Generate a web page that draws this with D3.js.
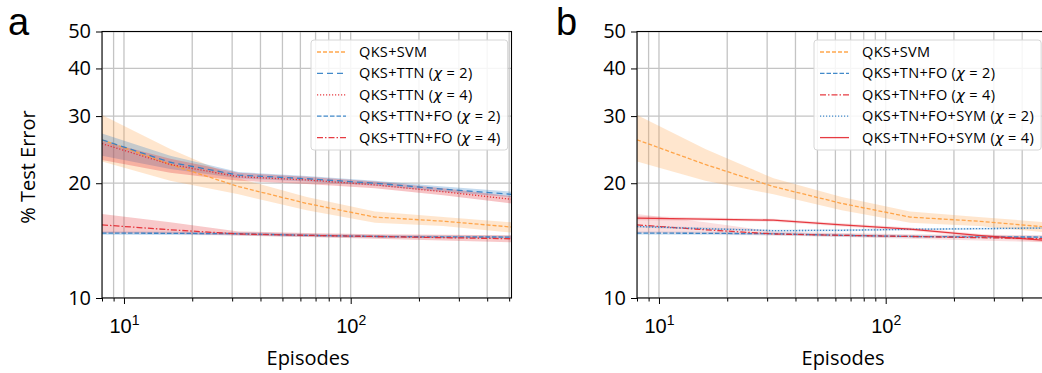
<!DOCTYPE html>
<html>
<head>
<meta charset="utf-8">
<script src="https://cdn.jsdelivr.net/npm/d3@7"></script>
<style>
  body { margin: 0; background: #fff; }
  svg { display: block; font-family: "Open Sans", "Noto Sans", sans-serif; }
</style>
</head>
<body>
<div id="chart"></div>
<script>
// episodes on the x axis (log2 steps)
const episodes = [8, 16, 32, 64, 128, 256, 512];

// % test error, mean and shaded band (lo / hi)
const svmMean = [26.0, 22.4, 19.6, 17.7, 16.3, 15.9, 15.35];
const svmLo   = [22.8, 20.3, 18.7, 17.0, 15.75, 15.45, 14.85];
const svmHi   = [30.2, 24.6, 20.6, 18.4, 16.85, 16.3, 15.8];

const ttn2Mean = [26.0, 22.7, 21.0, 20.55, 20.0, 19.3, 18.7];
const ttn2Lo   = [23.6, 21.8, 20.6, 20.2, 19.7, 19.0, 18.4];
const ttn2Hi   = [27.0, 23.6, 21.4, 20.9, 20.3, 19.6, 19.0];

const ttn4Mean = [25.4, 22.4, 20.8, 20.4, 19.8, 19.0, 18.15];
const ttn4Lo   = [23.0, 21.3, 20.3, 19.9, 19.4, 18.6, 17.7];
const ttn4Hi   = [25.8, 23.2, 21.3, 20.8, 20.2, 19.4, 18.5];

const fo2Mean = [14.8, 14.78, 14.74, 14.6, 14.5, 14.46, 14.45];
const fo2Lo   = [14.65, 14.64, 14.6, 14.47, 14.38, 14.34, 14.33];
const fo2Hi   = [14.95, 14.92, 14.88, 14.73, 14.62, 14.58, 14.57];

const fo4Mean = [15.55, 15.1, 14.72, 14.6, 14.5, 14.4, 14.3];
const fo4Lo   = [14.8, 14.75, 14.58, 14.45, 14.3, 14.15, 14.0];
const fo4Hi   = [16.6, 15.8, 14.95, 14.8, 14.7, 14.65, 14.6];

const sym2Mean = [15.4, 15.2, 15.02, 15.05, 15.14, 15.2, 15.26];
const sym2Lo   = [15.3, 15.1, 14.93, 14.96, 15.05, 15.11, 15.17];
const sym2Hi   = [15.5, 15.3, 15.11, 15.14, 15.23, 15.29, 15.35];

const sym4Mean = [16.2, 16.1, 16.0, 15.55, 15.15, 14.6, 14.15];
const sym4Lo   = [16.0, 15.95, 15.85, 15.4, 15.0, 14.45, 14.0];
const sym4Hi   = [16.4, 16.25, 16.15, 15.7, 15.3, 14.75, 14.3];

// ticks
const xMajorTicks = [10, 100];
const xMinorTicks = [8, 9, 20, 30, 40, 50, 60, 70, 80, 90, 200, 300, 400, 500];
const yTicks = [10, 20, 30, 40, 50];

const ORANGE = "#ff9d3b", BLUE = "#2d7dc4", RED = "#e3262d";

function series(name, chi, mean, lo, hi, color, dash, bandOpacity){
  return {name: name, chi: chi, mean: mean, lo: lo, hi: hi, color: color, dash: dash, bandOpacity: bandOpacity};
}

const panelA = [
  series("QKS+SVM", null, svmMean, svmLo, svmHi, ORANGE, "4,2", 0.25),
  series("QKS+TTN", 2, ttn2Mean, ttn2Lo, ttn2Hi, BLUE, "6,4", 0.28),
  series("QKS+TTN", 4, ttn4Mean, ttn4Lo, ttn4Hi, RED, "1.2,1.8", 0.28),
  series("QKS+TTN+FO", 2, fo2Mean, fo2Lo, fo2Hi, BLUE, "4.5,2", 0.28),
  series("QKS+TTN+FO", 4, fo4Mean, fo4Lo, fo4Hi, RED, "6,2,1.5,2", 0.25)
];

const panelB = [
  series("QKS+SVM", null, svmMean, svmLo, svmHi, ORANGE, "4,2", 0.25),
  series("QKS+TN+FO", 2, fo2Mean, fo2Lo, fo2Hi, BLUE, "4.5,2", 0.2),
  series("QKS+TN+FO", 4, fo4Mean, fo4Lo, fo4Hi, RED, "6,2,1.5,2", 0.15),
  series("QKS+TN+FO+SYM", 2, sym2Mean, sym2Lo, sym2Hi, BLUE, "1.2,1.8", 0.2),
  series("QKS+TN+FO+SYM", 4, sym4Mean, sym4Lo, sym4Hi, RED, null, 0.15)
];

class ErrorPanel{
  constructor(svg, opts){
    this.svg = svg;
    this.letter = opts.letter;
    this.letterX = opts.letterX;
    this.showYLabel = opts.showYLabel;
    this.left = opts.left;
    this.plotWidth = 409.5;
    this.top = 31.5;
    this.bottom = 298;
    this.legendLeft = opts.legendLeft;
    this.id = opts.letter;

    this.x = d3.scaleLog().domain([8, 512]).range([this.left, this.left + this.plotWidth]);
    this.y = d3.scaleLog().domain([10, 50]).range([this.bottom, this.top]);
  }

  draw(list){
    const x = this.x, y = this.y;
    const g = this.svg.append("g");

    g.append("clipPath").attr("id", "clip" + this.id)
      .append("rect")
      .attr("x", this.left).attr("y", this.top)
      .attr("width", this.plotWidth).attr("height", this.bottom - this.top);

    // grid
    const grid = g.append("g").attr("stroke", "#c4c4c4").attr("stroke-width", 1.3)
      .attr("clip-path", `url(#clip${this.id})`);
    grid.selectAll("line.gx").data(xMajorTicks.concat(xMinorTicks)).join("line")
      .attr("x1", d => x(d)).attr("x2", d => x(d))
      .attr("y1", this.top).attr("y2", this.bottom);
    grid.selectAll("line.gy").data(yTicks).join("line")
      .attr("x1", this.left).attr("x2", this.left + this.plotWidth)
      .attr("y1", d => y(d)).attr("y2", d => y(d));

    const plot = g.append("g").attr("clip-path", `url(#clip${this.id})`);

    const area = s => d3.area()
      .x((d, i) => x(episodes[i]))
      .y0((d, i) => y(s.lo[i]))
      .y1((d, i) => y(s.hi[i]))(s.mean);
    const line = s => d3.line()
      .x((d, i) => x(episodes[i]))
      .y(d => y(d))(s.mean);

    plot.selectAll("path.band").data(list).join("path")
      .attr("class", "band")
      .attr("d", area)
      .attr("fill", s => s.color)
      .attr("fill-opacity", s => s.bandOpacity);

    plot.selectAll("path.mean").data(list).join("path")
      .attr("class", "mean")
      .attr("d", line)
      .attr("fill", "none")
      .attr("stroke", s => s.color)
      .attr("stroke-opacity", 0.9)
      .attr("stroke-width", 1.3)
      .attr("stroke-dasharray", s => s.dash);

    // frame
    g.append("rect")
      .attr("x", this.left).attr("y", this.top)
      .attr("width", this.plotWidth).attr("height", this.bottom - this.top)
      .attr("fill", "none").attr("stroke", "#000").attr("stroke-width", 1.1);

    // y axis
    const yAxis = d3.axisLeft(y).tickValues(yTicks).tickFormat(d3.format("d"))
      .tickSize(6).tickPadding(5);
    g.append("g").attr("transform", `translate(${this.left},0)`).call(yAxis)
      .call(a => a.select(".domain").remove())
      .call(a => a.selectAll("text").attr("font-size", 20).attr("font-family", "Open Sans, sans-serif").attr("fill", "#000"));

    // x axis: minor ticks, then major ticks with 10^n labels
    g.append("g").attr("transform", `translate(0,${this.bottom})`)
      .call(d3.axisBottom(x).tickValues(xMinorTicks).tickSize(3.5).tickFormat(""))
      .call(a => a.select(".domain").remove());
    const major = g.append("g").attr("transform", `translate(0,${this.bottom})`)
      .call(d3.axisBottom(x).tickValues(xMajorTicks).tickSize(6).tickFormat(""))
      .call(a => a.select(".domain").remove());
    major.selectAll(".tick").append("text")
      .attr("y", 35).attr("fill", "#000").attr("text-anchor", "middle")
      .attr("font-size", 20)
      .each(function(d){
        const t = d3.select(this);
        t.append("tspan").text("10");
        t.append("tspan").attr("font-size", 14).attr("dy", -8).text(Math.round(Math.log10(d)));
      });

    // axis labels
    g.append("text")
      .attr("x", this.left + 206).attr("y", 365)
      .attr("text-anchor", "middle").attr("font-size", 20)
      .text("Episodes");
    if(this.showYLabel){
      g.append("text")
        .attr("transform", `translate(${this.left - 67},167) rotate(-90)`)
        .attr("text-anchor", "middle").attr("font-size", 20)
        .text("% Test Error");
    }
    g.append("text")
      .attr("x", this.letterX).attr("y", 35)
      .attr("font-family", "Liberation Sans, Arial, sans-serif")
      .attr("font-size", 38)
      .text(this.letter);

    this.drawLegend(g, list);
  }

  drawLegend(g, list){
    const lg = g.append("g").attr("transform", `translate(${this.legendLeft},40)`);
    const box = lg.append("rect")
      .attr("rx", 3).attr("ry", 3)
      .attr("fill", "#fff").attr("fill-opacity", 0.85)
      .attr("stroke", "#d6d6d6").attr("stroke-width", 1);

    let maxW = 0;
    list.forEach((s, i) => {
      const yy = 12 + i * 21.4;
      lg.append("line")
        .attr("x1", 6).attr("x2", 35).attr("y1", yy).attr("y2", yy)
        .attr("stroke", s.color).attr("stroke-width", 1.3)
        .attr("stroke-opacity", 0.9)
        .attr("stroke-dasharray", s.dash);
      const t = lg.append("text").attr("x", 48).attr("y", yy + 5)
        .attr("font-size", 14.5).attr("letter-spacing", 0.35);
      if(s.chi === null){
        t.text(s.name);
      }else{
        t.append("tspan").text(s.name + " (");
        t.append("tspan").attr("font-family", "DejaVu Sans").attr("font-style", "italic").text("\u03c7");
        t.append("tspan").text(" = " + s.chi + ")");
      }
      maxW = Math.max(maxW, t.node().getComputedTextLength());
    });
    box.attr("width", 48 + maxW + 7).attr("height", 110);
  }
}

const svg = d3.select("#chart").append("svg")
  .attr("width", 1042).attr("height", 373);

new ErrorPanel(svg, {letter: "a", letterX: 8, left: 102, legendLeft: 311, showYLabel: true}).draw(panelA);
new ErrorPanel(svg, {letter: "b", letterX: 556, left: 637, legendLeft: 814, showYLabel: false}).draw(panelB);
</script>
</body>
</html>
